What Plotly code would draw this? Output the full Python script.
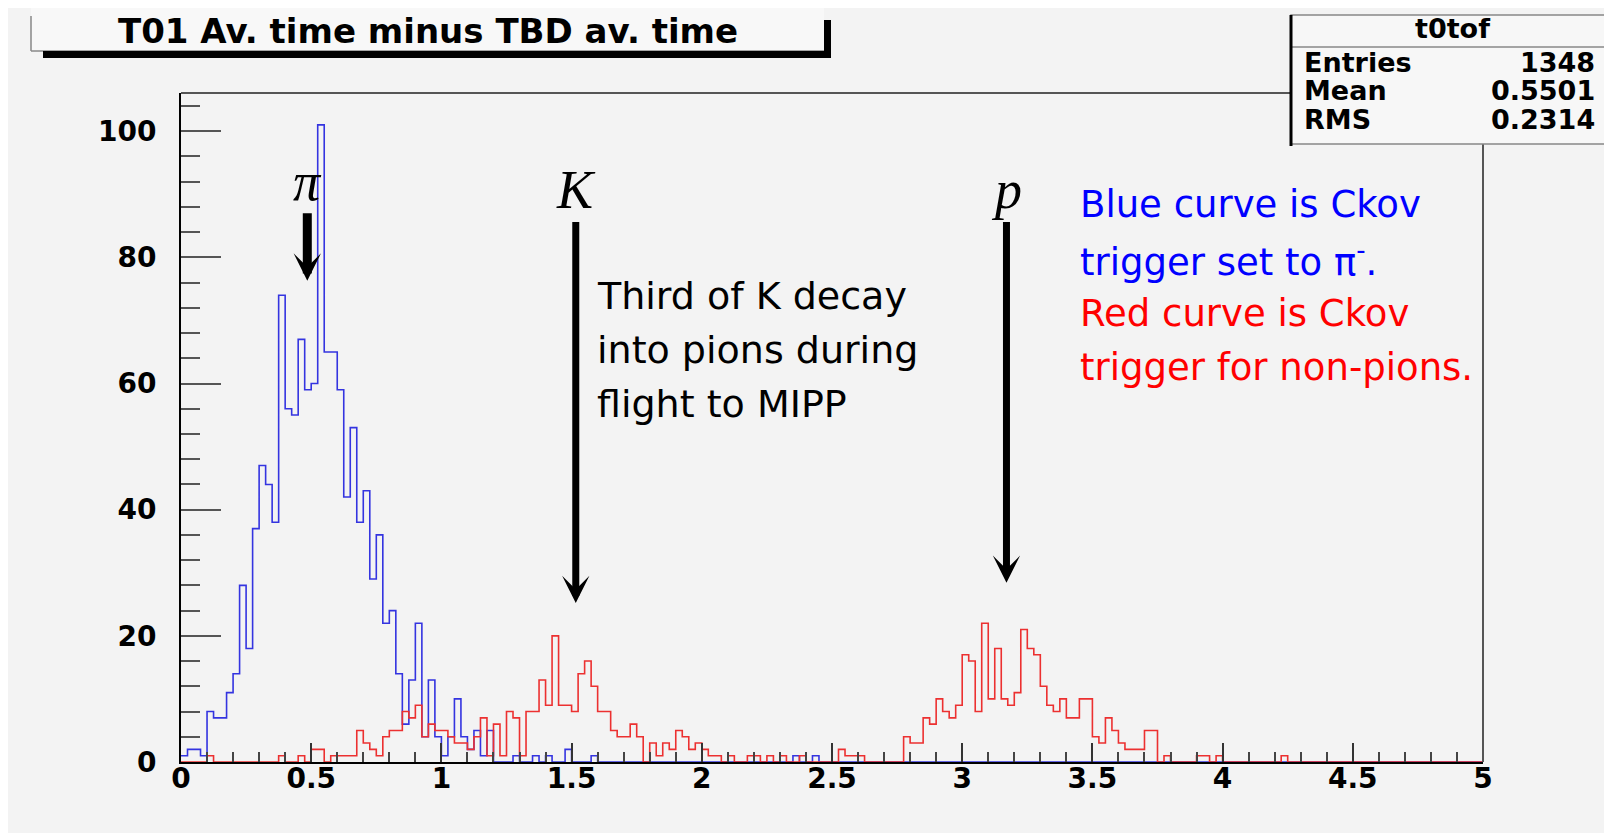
import numpy as np
import plotly.graph_objects as go

# histogram t0tof : 200 bins from 0 to 5
x_min, x_max = 0.0, 5.0
bin_width = 0.025

# Ckov trigger set to pi- (blue)
blue_counts = [
    1, 2, 2, 1, 8, 7, 7, 11, 14, 28, 18, 37, 47, 44, 38, 74, 56, 55, 67, 59,
    60, 101, 65, 65, 59, 42, 53, 38, 43, 29, 36, 22, 24, 14, 6, 13, 22, 4, 13, 4,
    1, 4, 10, 4, 2, 5, 1, 5, 0, 0, 0, 1, 0, 0, 1, 0, 1, 0, 0, 2,
    0, 0, 0, 1, 0, 0, 0, 0, 0, 0, 0, 0, 0, 0, 0, 0, 0, 0, 0, 0,
    0, 0, 0, 0, 0, 0, 0, 0, 0, 0, 0, 0, 0, 0, 1, 0, 0, 1, 0, 0,
    0, 0, 0, 0, 0, 0, 0, 0, 0, 0, 0, 0, 0, 0, 0, 0, 0, 0, 0, 0,
    0, 0, 0, 0, 0, 0, 0, 0, 0, 0, 0, 0, 0, 0, 0, 0, 0, 0, 0, 0,
    0, 0, 0, 0, 0, 0, 0, 0, 0, 0, 0, 0, 0, 0, 0, 0, 0, 0, 0, 0,
    0, 0, 0, 0, 0, 0, 0, 0, 0, 0, 0, 0, 0, 0, 0, 0, 0, 0, 0, 0,
    0, 0, 0, 0, 0, 0, 0, 0, 0, 0, 0, 0, 0, 0, 0, 0, 0, 0, 0, 0,
]

# Ckov trigger for non-pions (red)
red_counts = [
    0, 0, 0, 0, 1, 0, 0, 0, 0, 0, 0, 0, 0, 0, 0, 1, 0, 0, 1, 0,
    2, 2, 0, 1, 1, 1, 1, 5, 3, 2, 1, 4, 5, 5, 8, 7, 9, 4, 6, 5,
    5, 4, 3, 3, 2, 4, 7, 1, 6, 1, 8, 7, 1, 8, 8, 13, 9, 20, 9, 9,
    8, 14, 16, 12, 8, 8, 5, 4, 4, 6, 4, 0, 3, 1, 3, 2, 5, 4, 2, 3,
    2, 1, 1, 0, 1, 0, 0, 1, 1, 0, 1, 0, 1, 0, 0, 1, 0, 0, 0, 0,
    0, 2, 1, 1, 1, 0, 0, 0, 0, 0, 0, 4, 3, 3, 7, 6, 10, 8, 7, 9,
    17, 16, 8, 22, 10, 18, 10, 9, 11, 21, 18, 17, 12, 9, 8, 10, 7, 7, 10, 10,
    4, 3, 7, 5, 3, 2, 2, 2, 5, 5, 0, 1, 0, 0, 0, 0, 1, 1, 0, 1,
    0, 0, 0, 0, 0, 0, 0, 0, 0, 1, 0, 0, 0, 0, 0, 0, 0, 0, 0, 0,
    0, 0, 0, 0, 0, 0, 0, 0, 0, 0, 0, 0, 0, 0, 0, 0, 0, 0, 0, 0,
]

stats_title = "t0tof"
stats_names = ["Entries", "Mean", "RMS"]
stats_values = ["1348", "0.5501", "0.2314"]
title_text = "T01 Av. time minus TBD av. time"

note_lines = ["Third of K decay", "into pions during", "flight to MIPP"]
legend_lines = ["Blue curve is Ckov", "trigger set to π<sup>-</sup>.",
                "Red curve is Ckov", "trigger for non-pions."]
legend_colors = ["#0000ff", "#0000ff", "#ff0000", "#ff0000"]

# particle labels with their arrows (label x, label y, arrow tip y)
particles = ["π", "K", "p"]
particle_x = [0.485, 1.516, 3.17]
particle_y = [92.0, 90.6, 90.6]
arrow_tip = [76.3, 25.2, 28.4]
arrow_w = [9, 7, 7]

edges = x_min + bin_width * np.arange(len(blue_counts) + 1)


def step_xy(counts):
    return list(edges), list(counts) + [counts[-1]]


W, H = 1612, 833
L, R, T, B = 173, 137, 85, 79


def px(x):
    return (x - L) / (W - L - R)


def py(y):
    return (H - B - y) / (H - T - B)


bg = "#f3f3f3"
fig = go.Figure()
bx, by = step_xy(blue_counts)
fig.add_trace(go.Scatter(x=bx, y=by, mode="lines", line_shape="hv",
                         line=dict(color="#3434e0", width=1.6), showlegend=False))
rx, ry = step_xy(red_counts)
fig.add_trace(go.Scatter(x=rx, y=ry, mode="lines", line_shape="hv",
                         line=dict(color="#ec3030", width=1.6), showlegend=False))

tick_font = dict(family="DejaVu Sans", size=28, color="black", weight="bold")

fig.update_layout(
    width=W, height=H,
    margin=dict(l=L, r=R, t=T, b=B),
    paper_bgcolor=bg, plot_bgcolor=bg,
    xaxis=dict(range=[x_min, x_max], dtick=0.5, tick0=0, showgrid=False, zeroline=False,
               showline=True, linecolor="black", linewidth=2,
               ticks="inside", ticklen=19, tickwidth=2, tickcolor="#333",
               minor=dict(dtick=0.1, ticks="inside", ticklen=10, tickwidth=2, tickcolor="#444"),
               tickfont=tick_font, ticklabelstandoff=-10),
    yaxis=dict(range=[0, 106.05], dtick=20, tick0=0, showgrid=False, zeroline=False,
               showline=True, linecolor="black", linewidth=2,
               ticks="inside", ticklen=40, tickwidth=2, tickcolor="#555",
               minor=dict(dtick=4, ticks="inside", ticklen=19, tickwidth=2, tickcolor="#555"),
               tickfont=tick_font, ticklabelstandoff=17),
)

shapes = []
# frame top / right
shapes.append(dict(type="line", xref="paper", yref="paper", x0=0, x1=1, y0=1, y1=1,
                   line=dict(color="#555", width=2)))
shapes.append(dict(type="line", xref="paper", yref="paper", x0=1, x1=1, y0=0, y1=1,
                   line=dict(color="#555", width=2)))

# title box with shadow
shapes.append(dict(type="rect", xref="paper", yref="paper", x0=px(23), x1=px(816),
                   y0=py(43), y1=py(-4), fillcolor="#f8f8f8", line=dict(width=0)))
shapes.append(dict(type="line", xref="paper", yref="paper", x0=px(23), x1=px(23),
                   y0=py(43), y1=py(8), line=dict(color="#888", width=1.5)))
shapes.append(dict(type="line", xref="paper", yref="paper", x0=px(23), x1=px(816),
                   y0=py(43), y1=py(43), line=dict(color="#888", width=1.5)))
shapes.append(dict(type="rect", xref="paper", yref="paper", x0=px(35), x1=px(823),
                   y0=py(50), y1=py(43), fillcolor="black", line=dict(width=0)))
shapes.append(dict(type="rect", xref="paper", yref="paper", x0=px(816), x1=px(823),
                   y0=py(50), y1=py(12), fillcolor="black", line=dict(width=0)))

# stats box
sx0, sx1, sy0, sy1 = 1283, 1605, 7, 136
shapes.append(dict(type="rect", xref="paper", yref="paper", x0=px(sx0), x1=px(sx1),
                   y0=py(sy1), y1=py(sy0), fillcolor="#f7f7f7",
                   line=dict(color="#888", width=1.5)))
shapes.append(dict(type="line", xref="paper", yref="paper", x0=px(sx0), x1=px(sx1),
                   y0=py(39), y1=py(39), line=dict(color="#888", width=1.5)))
shapes.append(dict(type="line", xref="paper", yref="paper", x0=px(sx0), x1=px(sx0),
                   y0=py(138), y1=py(7), line=dict(color="black", width=3)))
shapes.append(dict(type="line", xref="paper", yref="paper", x0=px(sx1), x1=px(sx1),
                   y0=py(138), y1=py(0), line=dict(color="black", width=3)))
fig.update_layout(shapes=shapes)

ann = []
ann.append(dict(xref="paper", yref="paper", x=px(420), y=py(23), text=title_text,
                showarrow=False, xanchor="center", yanchor="middle",
                font=dict(family="DejaVu Sans", size=34, color="black", weight="bold")))

stat_font = dict(family="DejaVu Sans", size=27, color="black", weight="bold")
ann.append(dict(xref="paper", yref="paper", x=px((sx0 + sx1) / 2), y=py(20), text=stats_title,
                showarrow=False, xanchor="center", yanchor="middle", font=stat_font))
for i, (n, v) in enumerate(zip(stats_names, stats_values)):
    yy = py(54 + i * 28.5)
    ann.append(dict(xref="paper", yref="paper", x=px(1294), y=yy, text=n, showarrow=False,
                    xanchor="left", yanchor="middle", font=stat_font))
    ann.append(dict(xref="paper", yref="paper", x=px(1589), y=yy, text=v, showarrow=False,
                    xanchor="right", yanchor="middle", font=stat_font))

# labels sit at the arrow tail, the arrow runs down to the tip
for name, xx, yy, tip, aw in zip(particles, particle_x, particle_y, arrow_tip, arrow_w):
    ann.append(dict(x=xx, y=tip, ax=xx, ay=yy, axref="x", ayref="y", text=name,
                    showarrow=True, arrowhead=3, arrowsize=0.65 * 7 / aw, arrowwidth=aw,
                    arrowcolor="black", standoff=0, startstandoff=0,
                    font=dict(family="Liberation Serif", size=54, color="black", style="italic")))

text_font = dict(family="DejaVu Sans", size=38, color="black")
for i, line in enumerate(note_lines):
    ann.append(dict(x=1.588, y=73.9 - i * 8.55, text=line, showarrow=False,
                    xanchor="left", yanchor="middle", font=text_font))
for i, (line, c) in enumerate(zip(legend_lines, legend_colors)):
    ann.append(dict(x=3.444, y=88.3 - i * 8.6, text=line, showarrow=False,
                    xanchor="left", yanchor="middle",
                    font=dict(family="DejaVu Sans", size=37, color=c)))

fig.update_layout(annotations=ann)

fig.write_html("out.html")
